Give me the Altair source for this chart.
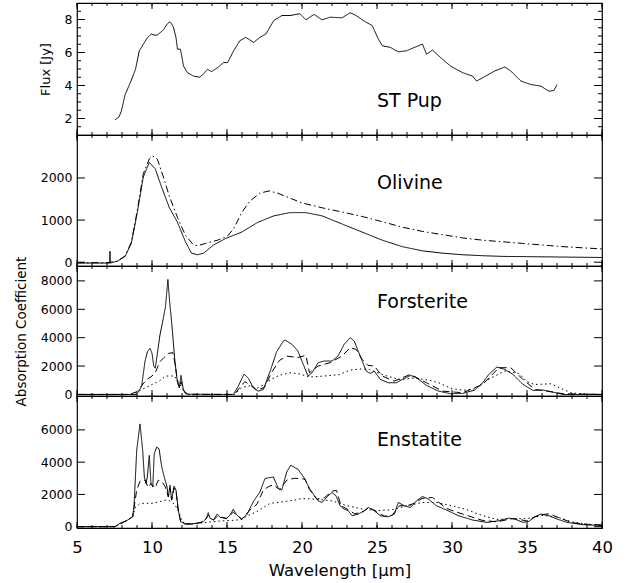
import altair as alt
import pandas as pd

# ---------------- data ----------------
flux_x = [7.54, 7.8, 7.95, 8.21, 8.6, 8.9, 9.15, 9.42, 9.7, 9.95, 10.2, 10.36, 10.76, 11.0, 11.16, 11.3,
          11.43, 11.6, 11.7, 11.9, 12.1, 12.36, 12.77, 13.17, 13.4, 13.7, 13.97, 14.37, 14.77, 15.04, 15.44,
          15.85, 16.25, 16.78, 17.19, 17.59, 18.12, 18.66, 19.2, 19.86, 20.26, 20.8, 21.34, 21.87, 22.67,
          23.21, 23.61, 24.15, 24.68, 25.09, 25.35, 25.89, 26.42, 26.96, 27.5, 28.03, 28.3, 28.7, 29.37,
          29.9, 30.7, 31.37, 31.64, 32.04, 32.85, 33.52, 33.92, 34.59, 35.26, 35.93, 36.47, 36.8, 37.0]
flux_y = [1.92, 2.1, 2.43, 3.45, 4.27, 4.98, 6.1, 6.5, 6.9, 7.12, 7.05, 7.06, 7.37, 7.7, 7.86, 7.75,
          7.53, 6.9, 6.2, 6.2, 5.18, 4.78, 4.57, 4.5, 4.67, 4.98, 4.84, 5.08, 5.39, 5.39, 6.1,
          6.71, 6.92, 6.61, 6.92, 7.12, 7.94, 8.24, 8.24, 8.35, 7.98, 8.31, 7.98, 8.14, 8.1,
          8.41, 8.24, 7.9, 7.63, 6.82, 6.41, 6.31, 6.04, 6.1, 6.31, 6.51, 5.9, 6.14, 5.59,
          5.18, 4.78, 4.57, 4.27, 4.47, 4.88, 5.12, 4.88, 4.27, 4.06, 3.96, 3.65, 3.7, 4.06]

oli_s_x = [5.0, 6.0, 7.0, 7.19, 7.2, 7.21, 7.68, 8.21, 8.62, 9.02, 9.42, 9.82, 10.22, 10.63, 11.16, 11.7,
           12.23, 12.63, 13.03, 13.44, 14.1, 14.9, 15.98, 17.05, 18.12, 19.19, 20.26, 21.34, 22.67, 24.01,
           25.35, 26.69, 28.03, 29.37, 30.7, 32.04, 33.38, 36.0, 40.0]
oli_s_y = [-20, -20, -20, -20, 260, -20, 23, 138, 446, 1177, 2023, 2369, 2215, 1792, 1292, 946,
           485, 215, 177, 215, 408, 562, 715, 946, 1100, 1177, 1177, 1100, 908, 715,
           523, 369, 269, 215, 177, 154, 138, 128, 112]
oli_d_x = [5.0, 7.0, 7.68, 8.21, 8.62, 9.02, 9.42, 9.82, 10.03, 10.36, 10.76, 11.16, 11.7, 12.23, 12.77,
           13.03, 13.57, 14.37, 15.04, 15.44, 15.98, 16.51, 17.18, 17.8, 18.39, 19.19, 19.99, 21.34, 22.67,
           24.01, 25.35, 26.69, 28.03, 29.37, 30.7, 32.04, 33.38, 34.7, 36.05, 37.4, 40.0]
oli_d_y = [-10, -10, 23, 150, 470, 1230, 2100, 2450, 2523, 2446, 2023, 1562, 1062, 638, 408,
           392, 446, 523, 623, 792, 1177, 1446, 1638, 1692, 1638, 1523, 1408, 1292, 1192,
           1085, 962, 831, 731, 654, 577, 523, 485, 446, 408, 369, 315]

fo_s_x = [5.0, 8.5, 8.98, 9.31, 9.53, 9.69, 9.87, 10.0, 10.12, 10.22, 10.35, 10.53, 10.75, 10.9, 11.06,
          11.18, 11.31, 11.53, 11.69, 11.82, 11.93, 12.09, 12.3, 15.0, 15.42, 15.75, 16.13, 16.42, 16.76,
          17.09, 17.42, 17.87, 18.31, 18.75, 18.87, 19.33, 19.73, 20.13, 20.4, 20.67, 21.07, 21.47, 22.0,
          22.4, 22.81, 23.21, 23.48, 23.88, 24.28, 24.55, 24.82, 25.22, 25.75, 26.29, 26.69, 27.23, 27.63,
          28.3, 29.1, 29.9, 30.7, 31.51, 32.05, 32.45, 32.99, 33.52, 34.06, 34.73, 35.4, 36.07, 36.73,
          37.4, 40.0]
fo_s_y = [0, 0, 0, 576, 2312, 3000, 3250, 2900, 2000, 1850, 2824, 4188, 5319, 6200, 8100,
          6500, 5090, 2312, 923, 458, 1340, 347, 20, 0, 0, 576, 1430, 1153, 458,
          229, 347, 1618, 3007, 3750, 3835, 3529, 3059, 2000, 1294, 1529, 2235, 2353, 2353,
          2706, 3529, 4000, 3765, 2706, 1647, 1482, 1647, 1059, 824, 824, 1059, 1341, 1176,
          635, 235, 47, 70, 306, 824, 1412, 1929, 1765, 1412, 706, 282, 306, 165,
          0, 0]
fo_d_x = [5.0, 8.5, 9.0, 9.3, 9.64, 10.0, 10.2, 10.53, 10.8, 11.09, 11.38, 11.53, 11.7, 11.82, 11.95,
          12.1, 12.4, 15.0, 15.5, 16.0, 16.2, 16.5, 17.0, 17.5, 18.0, 18.5, 19.0, 19.7, 20.26, 20.5,
          21.07, 21.87, 22.67, 23.21, 23.61, 24.01, 24.4, 24.82, 25.35, 26.15, 27.23, 28.3, 29.37, 30.7,
          32.05, 33.12, 33.92, 34.73, 35.53, 36.33, 37.4, 40.0]
fo_d_y = [0, 0, 200, 600, 1042, 1300, 1500, 2312, 2600, 2889, 2950, 2200, 900, 500, 900,
          250, 0, 0, 0, 700, 900, 700, 300, 500, 1600, 2400, 2700, 2600, 2753, 1529,
          2000, 2235, 2706, 3294, 3176, 2471, 2050, 2000, 1294, 941, 1412, 824, 235, 118,
          706, 1882, 1882, 1059, 353, 235, 47, 0]
fo_p_x = [5.0, 8.5, 9.0, 9.31, 10.0, 10.5, 10.9, 11.5, 11.8, 12.2, 12.5, 15.0, 15.5, 16.0, 16.5, 17.0,
          17.5, 18.0, 18.5, 19.19, 19.8, 20.5, 21.5, 22.5, 23.2, 24.0, 24.5, 25.5, 26.5, 27.5, 28.5,
          29.1, 30.0, 30.8, 31.5, 32.5, 33.5, 34.46, 35.0, 35.5, 36.6, 37.2, 38.0, 39.0, 40.0]
fo_p_y = [0, 0, 150, 347, 700, 950, 1294, 1300, 800, 100, 0, 0, 0, 500, 600, 450,
          700, 1100, 1350, 1529, 1450, 1224, 1300, 1400, 1718, 1800, 1750, 1350, 1050, 1150, 1000,
          824, 400, 300, 400, 1100, 1650, 1482, 900, 700, 750, 450, 100, 20, 0]

en_s_x = [5.0, 7.53, 7.87, 8.31, 8.71, 8.8, 8.98, 9.2, 9.38, 9.49, 9.6, 9.69, 9.82, 9.93, 10.05, 10.15,
          10.31, 10.47, 10.65, 10.87, 10.98, 11.09, 11.2, 11.31, 11.47, 11.6, 11.75, 11.91, 12.2, 12.53,
          12.98, 13.42, 13.64, 13.75, 13.87, 14.09, 14.35, 14.53, 14.98, 15.2, 15.42, 15.65, 15.98, 16.31,
          16.75, 17.2, 17.53, 18.09, 18.42, 18.65, 18.98, 19.25, 19.73, 20.13, 20.53, 21.07, 21.34, 21.74,
          22.0, 22.27, 22.54, 22.81, 23.08, 23.34, 23.75, 24.15, 24.42, 24.82, 25.22, 25.75, 26.16, 26.42,
          26.82, 27.23, 27.63, 28.03, 28.43, 28.97, 29.64, 30.44, 31.38, 32.32, 33.12, 33.79, 34.19, 34.73,
          35.13, 35.53, 35.93, 36.47, 37.0, 37.67, 38.74, 40.0]
en_s_y = [0, 0, 215, 375, 621, 1237, 4726, 6369, 4726, 3083, 2677, 3083, 4418, 2677, 2468, 4523,
          4929, 4831, 3698, 2880, 2572, 1852, 2572, 1649, 2511, 2265, 1034, 314, 172, 154,
          215, 314, 523, 868, 523, 418, 788, 585, 523, 726, 1077, 726, 480, 726,
          1545, 2160, 2985, 3083, 2369, 2265, 3390, 3803, 3560, 3045, 2325, 1605, 1502, 1914,
          2119, 1914, 1296, 1091, 988, 679, 782, 988, 1193, 988, 679, 617, 782, 1502,
          1296, 1193, 1605, 1872, 1708, 1296, 1029, 679, 412, 267, 370, 535, 473, 267,
          329, 617, 782, 679, 473, 267, 123, 82]
en_d_x = [5.0, 7.53, 8.31, 8.71, 8.98, 9.2, 9.53, 9.75, 9.93, 10.2, 10.42, 10.65, 10.87, 11.09, 11.2,
          11.31, 11.47, 11.6, 11.75, 11.91, 12.2, 13.0, 13.42, 13.75, 14.09, 14.35, 14.98, 15.42, 15.98,
          16.5, 17.0, 17.42, 17.8, 18.1, 18.5, 19.0, 19.5, 19.86, 20.2, 20.5, 21.0, 21.5, 22.0, 22.3,
          22.6, 23.0, 23.5, 24.0, 24.5, 25.0, 25.5, 26.0, 26.5, 27.0, 27.5, 28.0, 28.7, 29.2, 29.6,
          30.0, 31.0, 32.0, 33.0, 34.0, 34.5, 35.0, 35.5, 36.0, 36.5, 37.0, 38.0, 39.0, 40.0]
en_d_y = [0, 0, 375, 621, 2265, 2818, 2880, 2430, 2677, 2400, 2880, 2800, 2500, 1852, 2400,
          1649, 2400, 2200, 1034, 314, 172, 200, 300, 700, 400, 650, 500, 900, 450,
          1000, 1400, 2265, 2500, 2600, 2300, 2900, 3000, 2984, 2950, 2300, 1700, 1800, 2200, 2250,
          1300, 1100, 800, 900, 1200, 900, 650, 700, 1300, 1300, 1450, 1750, 1810, 1450, 1150,
          1000, 700, 400, 300, 500, 450, 350, 600, 750, 800, 600, 250, 150, 100]
en_p_x = [5.0, 7.53, 8.31, 8.71, 8.9, 9.2, 10.0, 10.5, 10.87, 11.2, 11.5, 11.8, 12.0, 12.5, 13.5, 14.5,
          15.5, 16.0, 16.3, 16.98, 17.87, 18.75, 19.5, 20.0, 21.0, 22.0, 23.0, 24.0, 25.0, 26.0, 27.0,
          28.0, 29.0, 30.0, 31.0, 32.0, 33.0, 34.0, 35.0, 36.0, 37.0, 38.0, 39.0, 40.0]
en_p_y = [0, 0, 375, 600, 1200, 1446, 1450, 1550, 1649, 1600, 1400, 900, 300, 150, 250, 350,
          400, 450, 650, 929, 1446, 1545, 1650, 1749, 1700, 1600, 1300, 1100, 1000, 1050, 1300,
          1500, 1500, 1300, 1050, 700, 450, 500, 500, 700, 600, 300, 150, 100]

panel_labels = ["ST Pup", "Olivine", "Forsterite", "Enstatite"]
label_x = [25, 25, 25, 25]
label_y = [3.05, 1870, 6480, 5400]

x_major = [5, 10, 15, 20, 25, 30, 35, 40]
x_minor = list(range(5, 41))
flux_major = [2, 4, 6, 8]
flux_minor = [1.5 + 0.5 * i for i in range(15)]
oli_major = [0, 1000, 2000]
fo_major = [0, 2000, 4000, 6000, 8000]
en_major = [0, 2000, 4000, 6000]

# ---------------- styling ----------------
FONT = "DejaVu Sans"
STYLE_NAMES = ["solid", "dash", "dot", "dashdot"]
STYLE_DASH = [[1, 0], [7, 4], [1.5, 3], [7, 3, 1.5, 3]]
W = 525
XDOM = [5, 40]
X_MAJ_LEN, X_MIN_LEN, Y_MAJ_LEN, Y_MIN_LEN = 6, 3, 8, 4


def make_df(series):
    frames = [pd.DataFrame({"w": xs, "v": ys, "s": name}) for name, xs, ys in series]
    return pd.concat(frames, ignore_index=True)


def tick_segments(ydom, h, ymajor, yminor):
    """Short inward tick segments on all four sides, built from the tick value lists."""
    rows = []
    y0, y1 = ydom
    x0, x1 = XDOM
    k = 0
    for vals, ln in ((x_major, X_MAJ_LEN), (x_minor, X_MIN_LEN)):
        dy = ln / h * (y1 - y0)
        for t in vals:
            for a, b in ((y0, y0 + dy), (y1, y1 - dy)):
                rows += [{"w": t, "v": a, "k": k}, {"w": t, "v": b, "k": k}]
                k += 1
    ylists = [(ymajor, Y_MAJ_LEN)] + ([(yminor, Y_MIN_LEN)] if yminor else [])
    for vals, ln in ylists:
        dx = ln / W * (x1 - x0)
        for t in vals:
            for a, b in ((x0, x0 + dx), (x1, x1 - dx)):
                rows += [{"w": a, "v": t, "k": k}, {"w": b, "v": t, "k": k}]
                k += 1
    return pd.DataFrame(rows)


def panel(df, ydom, h, ymajor, yminor, ytitle, ytitle_size, idx, bottom):
    xsc = alt.Scale(domain=XDOM, nice=False, zero=False)
    ysc = alt.Scale(domain=ydom, nice=False, zero=False)
    dash_scale = alt.Scale(domain=STYLE_NAMES, range=STYLE_DASH)

    xaxis_kw = dict(orient="bottom", values=x_major, ticks=False, domain=False, grid=False,
                    labels=bottom, labelFlush=False, labelPadding=11, labelFontSize=16.5, labelFont=FONT,
                    labelColor="black", labelOverlap=False, format="d", title=None)
    if bottom:
        xaxis_kw.update(title="Wavelength [μm]", titleFontSize=16.5, titleFont=FONT,
                        titleFontWeight="normal", titlePadding=7, titleColor="black")
    yaxis_kw = dict(orient="left", values=ymajor, ticks=False, domain=False, grid=False,
                    labels=True, labelPadding=5, labelFontSize=12.5, labelFont=FONT,
                    labelColor="black", labelOverlap=False, labelFlush=False, format="d", title=None)
    if ytitle:
        yaxis_kw.update(title=ytitle, titleFontSize=ytitle_size, titleFont=FONT,
                        titleFontWeight="normal", titlePadding=12, titleColor="black")
    xax = alt.Axis(**xaxis_kw)
    yax = alt.Axis(**yaxis_kw)

    def X():
        return alt.X("w:Q", scale=xsc, axis=xax)

    def Y():
        return alt.Y("v:Q", scale=ysc, axis=yax)

    lines = alt.Chart(df).mark_line(color="black", strokeWidth=1, clip=True).encode(
        x=X(), y=Y(),
        strokeDash=alt.StrokeDash("s:N", scale=dash_scale, legend=None),
    )
    ticks = alt.Chart(tick_segments(ydom, h, ymajor, yminor)).mark_line(
        color="black", strokeWidth=1).encode(x=X(), y=Y(), detail="k:N")
    lab_df = pd.DataFrame({"w": [label_x[idx]], "v": [label_y[idx]], "t": [panel_labels[idx]]})
    text = alt.Chart(lab_df).mark_text(align="left", baseline="middle", fontSize=19, font=FONT,
                                       color="black").encode(x=X(), y=Y(), text="t:N")
    return alt.layer(lines, ticks, text).properties(width=W, height=h)


p1 = panel(make_df([("solid", flux_x, flux_y)]), [1, 9], 132, flux_major, flux_minor,
           "Flux [Jy]", 13, 0, False)
p2 = panel(make_df([("solid", oli_s_x, oli_s_y), ("dashdot", oli_d_x, oli_d_y)]),
           [-90, 3020], 131, oli_major, None, None, 13, 1, False)
p3 = panel(make_df([("solid", fo_s_x, fo_s_y), ("dash", fo_d_x, fo_d_y), ("dot", fo_p_x, fo_p_y)]),
           [-110, 9050], 130, fo_major, None, "Absorption Coefficient", 13.5, 2, False)
p4 = panel(make_df([("solid", en_s_x, en_s_y), ("dash", en_d_x, en_d_y), ("dot", en_p_x, en_p_y)]),
           [-80, 8100], 132, en_major, None, None, 13, 3, True)

chart = alt.vconcat(p1, p2, p3, p4, spacing=0, bounds="flush").properties(
    padding={"left": 13, "top": 0, "right": 15, "bottom": 0},
    background="white",
).configure_view(stroke="black", strokeWidth=1.2).configure_text(font=FONT)

chart.save("out.html", embed_options={"renderer": "svg", "actions": False})
